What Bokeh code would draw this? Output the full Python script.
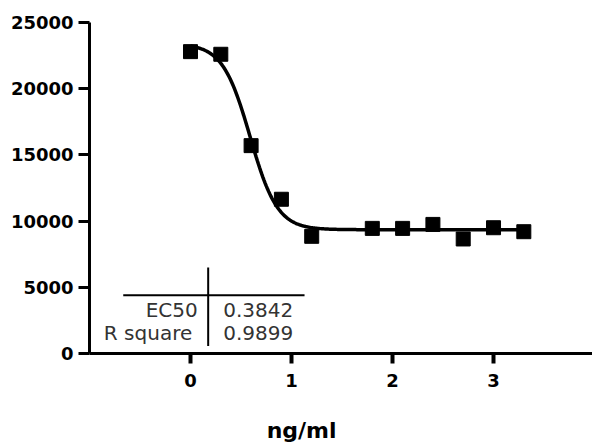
import numpy as np
from bokeh.plotting import figure
from bokeh.layouts import column
from bokeh.models import FixedTicker, Label, Range1d
from bokeh.embed import file_html
from bokeh.resources import INLINE

# ---- data ----
log_conc = [0.0, 0.3, 0.6, 0.9, 1.2, 1.8, 2.1, 2.4, 2.7, 3.0, 3.3]
signal = [22800, 22600, 15700, 11650, 8850, 9450, 9450, 9750, 8650, 9500, 9200]

# sigmoidal fit parameters (estimated from the drawn curve)
fit_top = 23400
fit_bottom = 9350
fit_log_ec50 = 0.59
fit_hill = 3.2
fit_x_start = 0.0
fit_x_end = 3.35

x_ticks = [0, 1, 2, 3]
y_ticks = [0, 5000, 10000, 15000, 20000, 25000]

table_names = ["EC50", "R square"]
table_values = ["0.3842", "0.9899"]
x_label = "ng/ml"

X_MIN, X_MAX = -1, 3.98
LEFT = 89
WIDTH = 592

# ---- main figure ----
p = figure(width=WIDTH, height=410, output_backend="svg", toolbar_location=None,
           x_range=Range1d(X_MIN, X_MAX), y_range=Range1d(0, 25000),
           min_border_left=LEFT, min_border_right=0, min_border_top=22,
           min_border_bottom=57)
p.outline_line_color = None
p.xgrid.visible = False
p.ygrid.visible = False
p.background_fill_color = "white"
p.border_fill_color = "white"

for ax in (p.xaxis, p.yaxis):
    ax.axis_line_width = 3
    ax.axis_line_color = "black"
    ax.major_tick_line_width = 3
    ax.major_tick_line_color = "black"
    ax.major_tick_in = 0
    ax.major_tick_out = 11
    ax.minor_tick_line_color = None
    ax.major_label_text_font = "DejaVu Sans"
    ax.major_label_text_font_style = "bold"
    ax.major_label_text_font_size = "18px"
    ax.major_label_text_color = "black"

p.xaxis.ticker = FixedTicker(ticks=x_ticks)
p.yaxis.ticker = FixedTicker(ticks=y_ticks)
p.xaxis.major_tick_line_width = 4
p.xaxis.major_tick_out = 10
p.xaxis.major_label_standoff = 10
p.yaxis.major_label_standoff = 5

# fitted curve
xs = np.linspace(fit_x_start, fit_x_end, 300)
ys = fit_bottom + (fit_top - fit_bottom) / (1 + 10 ** ((xs - fit_log_ec50) * fit_hill))
p.line(xs, ys, line_width=3.5, color="black")

# data points
p.scatter(log_conc, signal, marker="square", size=14, color="black")

# results table
p.segment(x0=[-0.666, 0.175], y0=[4400, 6490], x1=[1.129, 0.175], y1=[4400, 570],
          line_color="black", line_width=2)
name_x = [0.072, 0.017]
row_y = [3250, 1530]
for nm, val, nx, ry in zip(table_names, table_values, name_x, row_y):
    p.add_layout(Label(x=nx, y=ry, text=nm, text_align="right", text_baseline="middle",
                       text_font="DejaVu Sans", text_font_size="20px",
                       text_color="#333333"))
    p.add_layout(Label(x=0.324, y=ry, text=val, text_align="left", text_baseline="middle",
                       text_font="DejaVu Sans", text_font_size="20px",
                       text_color="#333333"))

# ---- strip under the chart holding the x-axis title ----
# (column() aligns its frame with the main frame, so it shares the x scale)
p2 = figure(width=WIDTH, height=36, output_backend="svg", toolbar_location=None,
            x_range=Range1d(X_MIN, X_MAX), y_range=Range1d(0, 36),
            x_axis_type=None, y_axis_type=None,
            min_border_left=0, min_border_right=0, min_border_top=0, min_border_bottom=0)
p2.outline_line_color = None
p2.xgrid.visible = False
p2.ygrid.visible = False
p2.border_fill_color = "white"
p2.add_layout(Label(x=1.10, y=16, text=x_label, text_align="center",
                    text_baseline="middle", text_font="DejaVu Sans",
                    text_font_style="bold", text_font_size="22px", text_color="black"))

layout = column(p, p2, spacing=0)
open("out.html", "w").write(file_html(layout, INLINE))
